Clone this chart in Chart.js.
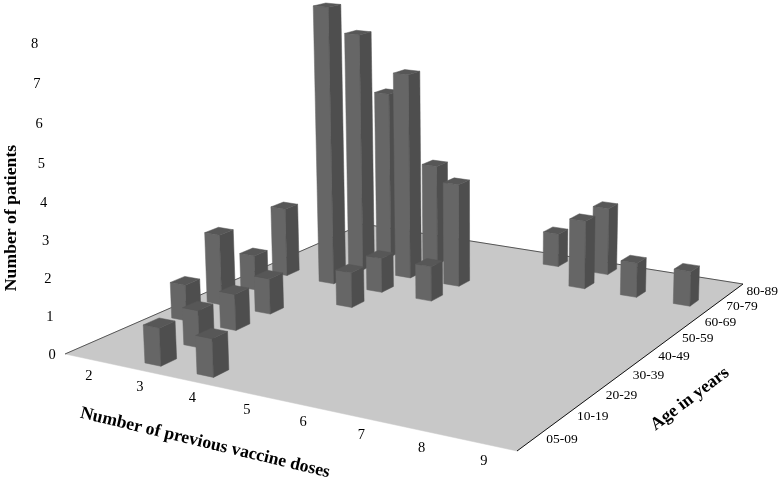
<!DOCTYPE html>
<html>
<head>
<meta charset="utf-8">
<style>
  html, body { margin: 0; padding: 0; background: #fff; }
  canvas { display: block; }
</style>
<script src="https://cdn.jsdelivr.net/npm/chart.js@4/dist/chart.umd.min.js"></script>
</head>
<body>
<canvas id="myChart" width="780" height="477"></canvas>
<script>
var doseLabels = ['2', '3', '4', '5', '6', '7', '8', '9'];
var ageLabels = ['05-09', '10-19', '20-29', '30-39', '40-49', '50-59', '60-69', '70-79', '80-89'];
var patientTicks = [0, 1, 2, 3, 4, 5, 6, 7, 8];

// one entry per bar, same order in all three
var barDoses = ['3', '4', '3', '2', '2', '3', '2', '3', '2', '3', '4', '4', '3', '4', '3', '4', '5', '5', '6', '7', '7', '8', '9'];
var barAges = ['05-09', '05-09', '10-19', '20-29', '30-39', '20-29', '40-49', '30-39', '50-59', '50-59', '40-49', '50-59',
    '60-69', '60-69', '70-79', '70-79', '60-69', '50-59', '80-89', '70-79', '80-89', '70-79', '70-79'];
var barPatients = [1, 1, 1, 1, 2, 1, 1, 1, 2, 8, 1, 1, 7, 6, 5, 3, 3, 1, 1, 2, 2, 1, 1];

// camera: maps (dose, age, height) as 0..1 decimals onto the page
var cam = {
    a: 386.6, b: 394.1, c: 65, p: -19.2,
    d: 39.95, e: -70.7, f: 354, q: -312.6,
    g: -0.1265, h: 0.2647, r: -0.04
};
var halfDose = 0.155, halfAge = 0.2;

function project(u, v, w) {
    var n = cam.g * u + cam.h * v + 1 + cam.r * w;
    return {
        x: (cam.a * u + cam.b * v + cam.c + cam.p * w) / n,
        y: (cam.d * u + cam.e * v + cam.f + cam.q * w) / n
    };
}

function poly(ctx, pts, fill) {
    ctx.beginPath();
    pts.forEach(function (pt, i) {
        if (i == 0) ctx.moveTo(pt.x, pt.y); else ctx.lineTo(pt.x, pt.y);
    });
    ctx.closePath();
    ctx.fillStyle = fill;
    ctx.fill();
    ctx.strokeStyle = fill;
    ctx.lineWidth = 0.5;
    ctx.stroke();
}

function line(ctx, from, to, color) {
    ctx.beginPath();
    ctx.moveTo(from.x, from.y);
    ctx.lineTo(to.x, to.y);
    ctx.strokeStyle = color;
    ctx.lineWidth = 1;
    ctx.stroke();
}

function label(ctx, text, x, y, font, angle) {
    ctx.save();
    ctx.translate(x, y);
    ctx.rotate((angle || 0) * Math.PI / 180);
    ctx.font = font;
    ctx.fillStyle = '#000';
    ctx.textAlign = 'center';
    ctx.textBaseline = 'middle';
    ctx.fillText(text, 0, 0);
    ctx.restore();
}

var bars3d = {
    id: 'bars3d',
    afterDatasetsDraw: function (chart) {
        var ctx = chart.ctx;
        var xs = chart.scales.x, ys = chart.scales.y, zs = chart.scales.z;
        var decX = function (i) { return (xs.getPixelForValue(i) - xs.left) / xs.width; };
        var decY = function (i) { return (ys.bottom - ys.getPixelForValue(i)) / ys.height; };
        var decZ = function (n) { return (zs.bottom - zs.getPixelForValue(n)) / zs.height; };
        var lastX = doseLabels.length - 0.5, lastY = ageLabels.length - 0.5;

        // floor
        var c0 = project(decX(-0.5), decY(-0.5), 0);
        var c1 = project(decX(lastX), decY(-0.5), 0);
        var c2 = project(decX(lastX), decY(lastY), 0);
        var c3 = project(decX(-0.5), decY(lastY), 0);
        poly(ctx, [c0, c1, c2, c3], '#c8c8c8');
        line(ctx, c0, c3, '#555');
        line(ctx, c3, c2, '#555');
        line(ctx, c1, c2, '#111');

        // far bars first so the near ones cover them
        var order = chart.data.datasets[0].data.map(function (pt) {
            return { i: xs.parse(pt.x), j: ys.parse(pt.y), n: pt.z };
        });
        order.sort(function (m, k) { return k.j - m.j || m.i - k.i; });

        order.forEach(function (bar) {
            var u0 = decX(bar.i - halfDose), u1 = decX(bar.i + halfDose);
            var v0 = decY(bar.j - halfAge), v1 = decY(bar.j + halfAge);
            var top = decZ(bar.n);
            poly(ctx, [project(u0, v0, 0), project(u1, v0, 0), project(u1, v0, top), project(u0, v0, top)], '#666666');
            poly(ctx, [project(u1, v0, 0), project(u1, v1, 0), project(u1, v1, top), project(u1, v0, top)], '#4e4e4e');
            poly(ctx, [project(u0, v0, top), project(u1, v0, top), project(u1, v1, top), project(u0, v1, top)], '#575757');
        });

        // tick labels, they follow the floor edges and the left upright
        var tickFont = '13.5px "Liberation Serif"';
        var digitFont = '14.5px "Liberation Serif"';
        doseLabels.forEach(function (t, i) {
            var pt = project(decX(i), decY(-0.5), 0);
            label(ctx, t, pt.x - 1, pt.y + 17, digitFont);
        });
        ageLabels.forEach(function (t, j) {
            var pt = project(decX(lastX), decY(j), 0);
            label(ctx, t, pt.x + 29, pt.y, tickFont);
        });
        patientTicks.forEach(function (t) {
            var pt = project(decX(-0.5), decY(-0.5), decZ(t));
            label(ctx, String(t), pt.x - 13, pt.y + 1, digitFont);
        });

        // axis titles
        var titleFont = 'bold 17.7px "Liberation Serif"';
        label(ctx, 'Number of patients', 11, 218, titleFont, -90);
        label(ctx, 'Number of previous vaccine doses', 205, 443, titleFont, 13.5);
        label(ctx, 'Age in years', 690, 399, titleFont, -37);
    }
};

var myChart = new Chart(document.getElementById('myChart'), {
    type: 'scatter',
    data: {
        datasets: [{
            label: 'Number of patients',
            pointRadius: 0,
            data: barPatients.map(function (n, k) {
                return { x: barDoses[k], y: barAges[k], z: n };
            })
        }]
    },
    options: {
        responsive: false,
        animation: false,
        events: [],
        plugins: { legend: { display: false }, tooltip: { enabled: false } },
        scales: {
            x: { type: 'category', labels: doseLabels, offset: true, display: false },
            y: { type: 'category', labels: ageLabels, offset: true, reverse: true, display: false },
            z: { type: 'linear', axis: 'y', min: 0, max: 8, display: false }
        }
    },
    plugins: [bars3d]
});
</script>
</body>
</html>
